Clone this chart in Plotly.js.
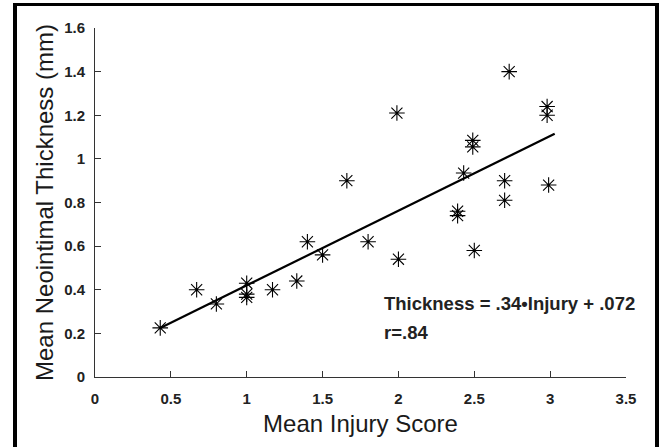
<!DOCTYPE html>
<html>
<head>
<meta charset="utf-8">
<script src="https://cdn.plot.ly/plotly-3.0.1.min.js"></script>
<style>
  html, body { margin: 0; padding: 0; background: #fff; }
  #wrap { position: relative; width: 665px; height: 447px; overflow: hidden; }
  #chart { width: 665px; height: 447px; }
  #frame { position: absolute; left: 13px; top: 3px; width: 646px; height: 470px;
           box-sizing: border-box; border: 4px solid #000; border-top-width: 3px; pointer-events: none; }
</style>
</head>
<body>
<div id="wrap">
  <div id="chart"></div>
  <div id="frame"></div>
</div>
<script>
// Mean injury score (x) and mean neointimal thickness in mm (y)
const injuryScore = [0.43, 0.67, 0.80, 1.00, 1.00, 1.00, 1.17, 1.33, 1.40, 1.50,
                     1.66, 1.80, 1.99, 2.00, 2.39, 2.39, 2.43, 2.49, 2.49, 2.50,
                     2.70, 2.70, 2.73, 2.98, 2.98, 2.99];
const thickness   = [0.225, 0.40, 0.335, 0.43, 0.38, 0.365, 0.40, 0.44, 0.62, 0.56,
                     0.90, 0.62, 1.21, 0.54, 0.76, 0.74, 0.935, 1.085, 1.055, 0.58,
                     0.90, 0.81, 1.40, 1.24, 1.20, 0.88];

// Regression line as drawn (end points)
const fitX = [0.43, 3.03];
const fitY = [0.225, 1.115];

const xTicks = [0, 0.5, 1, 1.5, 2, 2.5, 3, 3.5];
const xTickLabels = ['0', '0.5', '1', '1.5', '2', '2.5', '3', '3.5'];
const yTicks = [0, 0.2, 0.4, 0.6, 0.8, 1, 1.2, 1.4, 1.6];
const yTickLabels = ['0', '0.2', '0.4', '0.6', '0.8', '1', '1.2', '1.4', '1.6'];

const equationText = 'Thickness = .34•Injury + .072';
const rText = 'r=.84';

const fontFam = 'Liberation Sans, Arial, Helvetica, sans-serif';

const traces = [
  {
    x: fitX, y: fitY, mode: 'lines', type: 'scatter',
    line: { color: '#000', width: 2.2 }, hoverinfo: 'skip', showlegend: false
  },
  {
    x: injuryScore, y: thickness, mode: 'markers', type: 'scatter',
    marker: { symbol: 'asterisk-open', size: 13, color: '#000', line: { color: '#111', width: 1.1 } },
    showlegend: false
  }
];

const layout = {
  width: 665, height: 447,
  margin: { l: 95, r: 39, t: 27.5, b: 69.5 },
  paper_bgcolor: '#fff', plot_bgcolor: '#fff',
  font: { family: fontFam, color: '#111' },
  xaxis: {
    range: [0, 3.5], tickvals: xTicks, ticktext: xTickLabels,
    showgrid: false, zeroline: false, showline: true, linecolor: '#333', linewidth: 1,
    ticks: 'inside', ticklen: 6, tickcolor: '#333', tickwidth: 1, ticklabelstandoff: 8,
    tickfont: { size: 15, family: fontFam, weight: 'bold', color: '#222' },
    title: { text: 'Mean Injury Score', font: { size: 24, family: fontFam, color: '#1a1a1a' }, standoff: 9 }
  },
  yaxis: {
    range: [0, 1.6], tickvals: yTicks, ticktext: yTickLabels,
    showgrid: false, zeroline: false, showline: true, linecolor: '#333', linewidth: 1,
    ticks: 'inside', ticklen: 6, tickcolor: '#333', tickwidth: 1, ticklabelstandoff: 6,
    tickfont: { size: 15, family: fontFam, weight: 'bold', color: '#222' },
    title: { text: 'Mean Neointimal Thickness (mm)', font: { size: 24, family: fontFam, color: '#1a1a1a' }, standoff: 3 }
  },
  annotations: [
    { x: 1.89, y: 0.335, xref: 'x', yref: 'y', text: equationText, showarrow: false,
      xanchor: 'left', yanchor: 'middle', font: { size: 18.5, family: fontFam, weight: 'bold', color: '#222' } },
    { x: 1.89, y: 0.205, xref: 'x', yref: 'y', text: rText, showarrow: false,
      xanchor: 'left', yanchor: 'middle', font: { size: 18.5, family: fontFam, weight: 'bold', color: '#222' } }
  ]
};

Plotly.newPlot('chart', traces, layout, { staticPlot: true, displayModeBar: false });
</script>
</body>
</html>
